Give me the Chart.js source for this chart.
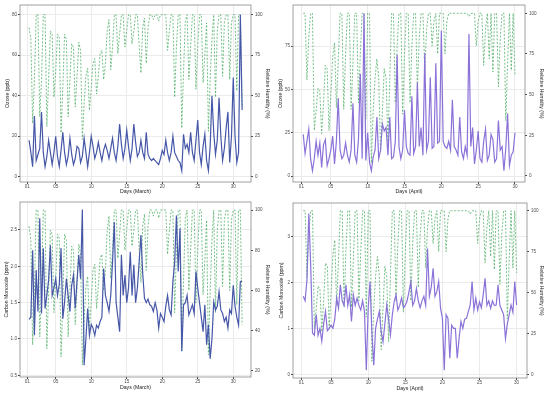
<!DOCTYPE html>
<html>
<head>
<meta charset="utf-8">
<script src="https://cdn.jsdelivr.net/npm/chart.js@4.4.1/dist/chart.umd.min.js"></script>
<style>
  body { margin: 0; background: #fff; }
  #wrap { position: relative; width: 550px; height: 395px; }
  canvas { position: absolute; }
</style>
</head>
<body>
<div id="wrap">
  <canvas id="c1" width="275" height="197" style="left:0;top:0;width:275px;height:197px"></canvas>
  <canvas id="c2" width="275" height="197" style="left:275px;top:0;width:275px;height:197px"></canvas>
  <canvas id="c3" width="275" height="198" style="left:0;top:197px;width:275px;height:198px"></canvas>
  <canvas id="c4" width="275" height="198" style="left:275px;top:197px;width:275px;height:198px"></canvas>
</div>
<script>
// 6-hourly readings, first value at day 1.25
var marO3 = [
  18, 12, 5,
  30, 8, 11, 14,
  32, 12, 5, 10,
  18, 12, 6, 12,
  20, 10, 5, 13,
  22, 12, 6, 10,
  19, 11, 6, 9,
  15, 14, 7, 10,
  19, 12, 5, 12,
  20, 15, 9, 12,
  17, 12, 8, 13,
  16, 13, 9, 14,
  19, 12, 8, 15,
  26, 16, 9, 14,
  23, 15, 8, 14,
  26, 17, 10, 12,
  18, 12, 9, 22,
  11, 9, 8, 9,
  8, 7, 6, 9,
  13, 11, 18, 12,
  8, 12, 20, 12,
  10, 8, 7, 3,
  21, 14, 16, 12,
  22, 12, 8, 18,
  28, 12, 6, 15,
  21, 8, 3, 15,
  40, 22, 11, 18,
  39, 20, 8, 14,
  24, 32, 7, 20,
  49, 20, 7, 12,
  80, 33
];
var marRH = [
  92, 85, 33,
  60, 100, 100, 37,
  60, 100, 100, 31,
  60, 90, 88, 49,
  65, 88, 86, 27,
  55, 88, 85, 37,
  60, 82, 80, 43,
  62, 83, 78, 23,
  45, 62, 67, 41,
  55, 70, 73, 51,
  62, 76, 78, 60,
  70, 90, 97, 66,
  80, 100, 100, 76,
  88, 100, 100, 80,
  90, 100, 100, 82,
  90, 100, 100, 81,
  64, 92, 98, 70,
  92, 100, 100, 97,
  100, 100, 96, 100,
  100, 100, 100, 78,
  90, 100, 100, 49,
  80, 100, 100, 30,
  65, 96, 100, 60,
  80, 100, 100, 54,
  80, 100, 100, 58,
  75, 95, 28, 60,
  85, 100, 49, 90,
  100, 100, 62, 95,
  100, 100, 60, 95,
  100, 100, 53, 100,
  100, 43
];
var marCO = [
  1.27, 1.3, 2.22,
  1.05, 1.95, 1.38, 2.66,
  1.35, 2.25, 1.42, 1.6,
  1.81, 2.29, 1.6, 1.7,
  1.83, 1.6, 1.75, 2.25,
  1.28, 1.51, 1.83, 1.6,
  1.38, 1.74, 1.88, 1.42,
  1.8, 2.16, 1.83, 2.78,
  0.64, 1.0, 1.42, 1.05,
  1.2, 1.15, 1.05, 1.19,
  1.15, 1.24, 1.3, 1.97,
  1.6, 1.5, 1.38, 1.6,
  2.06, 2.61, 1.51, 1.3,
  1.1, 2.16, 1.6, 1.88,
  1.5, 1.7, 2.2, 1.6,
  2.02, 1.5, 1.7, 2.06,
  2.43, 1.9, 1.56, 1.5,
  1.55, 1.47, 1.45, 1.38,
  1.5, 1.4, 1.15, 1.35,
  1.3, 1.24, 1.45, 1.6,
  1.4, 1.33, 1.79, 2.06,
  2.7, 1.93, 2.52, 0.83,
  1.47, 1.5, 1.6, 1.33,
  1.4, 1.47, 1.35, 1.93,
  1.7, 1.5, 1.3, 1.1,
  1.47, 0.92, 1.2, 0.73,
  1.0, 1.51, 1.4, 1.45,
  1.65, 1.4, 1.35, 1.24,
  1.3, 1.15, 1.4, 1.35,
  1.74, 1.45, 1.3, 1.19,
  1.79, 1.8
];
var aprO3 = [
  24, 13, 20,
  27, 10, 3, 10,
  20, 12, 19, 5,
  18, 21, 6, 10,
  15, 23, 7, 20,
  45, 15, 10, 12,
  19, 12, 8, 15,
  42, 12, 8, 21,
  59, 10, 94, 9,
  25, 8, 3, 11,
  15, 34, 10, 15,
  30, 26, 28, 12,
  34, 10, 11, 20,
  70, 17, 10, 15,
  38, 17, 13, 12,
  46, 13, 17, 54,
  17, 28, 12, 71,
  15, 20, 57, 16,
  17, 65, 19, 20,
  84, 20, 17, 16,
  20, 15, 44, 17,
  15, 12, 34, 14,
  10, 17, 12, 82,
  17, 28, 7, 15,
  26, 10, 8, 20,
  27, 9, 12, 24,
  21, 8, 10, 32,
  15, 17, 3, 16,
  36, 6, 12, 14,
  25
];
var aprRH = [
  100, 100, 59,
  85, 100, 100, 28,
  40, 54, 52, 26,
  45, 68, 66, 28,
  50, 73, 82, 42,
  70, 100, 100, 41,
  75, 100, 100, 41,
  70, 100, 100, 45,
  75, 100, 100, 35,
  100, 100, 8, 40,
  60, 72, 60, 15,
  40, 66, 60, 20,
  60, 100, 100, 45,
  80, 100, 100, 38,
  75, 100, 100, 45,
  80, 100, 100, 53,
  85, 100, 100, 65,
  90, 100, 100, 80,
  95, 100, 75, 100,
  100, 100, 75, 95,
  100, 100, 100, 100,
  100, 100, 100, 100,
  100, 100, 100, 98,
  100, 100, 100, 80,
  95, 100, 100, 68,
  90, 100, 72, 100,
  64, 100, 100, 55,
  85, 100, 100, 34,
  70, 100, 65, 100,
  62
];
var aprCO = [
  1.7, 1.6, 2.05,
  3.5, 2.4, 0.9, 0.85,
  1.3, 0.85, 1.0, 0.72,
  1.1, 1.37, 0.95, 1.0,
  1.07, 1.0, 1.2, 1.66,
  1.44, 1.95, 1.6, 1.5,
  1.95, 1.5, 1.73, 1.15,
  1.73, 1.5, 1.66, 1.5,
  1.4, 1.6, 1.37, 0.09,
  1.44, 2.02, 0.93, 0.2,
  1.0, 1.2, 1.37, 0.93,
  0.71, 1.1, 1.51, 1.2,
  0.86, 1.29, 1.58, 1.73,
  1.4, 1.5, 1.66, 1.45,
  1.5, 1.6, 1.8, 2.02,
  1.5, 1.6, 1.87, 1.6,
  1.45, 1.6, 1.7, 1.5,
  2.74, 1.7, 1.9, 2.31,
  1.7, 1.8, 2.02, 1.44,
  1.22, 0.09, 1.3, 1.22,
  0.35, 1.07, 1.0, 1.0,
  0.35, 0.78, 1.15, 1.0,
  1.2, 1.22, 1.37, 1.51,
  2.02, 1.4, 1.66, 1.4,
  1.58, 1.45, 1.73, 2.09,
  1.5, 1.6, 1.44, 1.6,
  1.5, 1.51, 1.95, 1.5,
  1.4, 1.3, 0.78, 1.1,
  1.3, 1.51, 1.35, 2.02,
  1.51
];

var dayTicks = [1, 5, 10, 15, 20, 25, 30];
var o3MarTicks = [0, 20, 40, 60, 80];
var o3AprTicks = [0, 25, 50, 75];
var coMarTicks = [0.5, 1.0, 1.5, 2.0, 2.5];
var coAprTicks = [0, 1, 2, 3];
var rhTicks = [0, 25, 50, 75, 100];
var rhCoMarTicks = [20, 40, 60, 80, 100];

var marDays = marO3.map(function (_, i) { return 1.25 + i / 4; });
var aprDays = aprO3.map(function (_, i) { return 1.25 + i / 4; });

var FONT = '"Liberation Sans", Arial, sans-serif';
var tickFont = { family: FONT, size: 4.6 };
var titleFont = { family: FONT, size: 5.2 };

// panel border like ggplot's theme_bw
var frame = {
  id: 'frame',
  afterDraw: function (chart) {
    var a = chart.chartArea, ctx = chart.ctx;
    ctx.save();
    ctx.strokeStyle = '#8a8a8a';
    ctx.lineWidth = 0.8;
    ctx.strokeRect(a.left, a.top, a.right - a.left, a.bottom - a.top);
    ctx.restore();
  }
};

function pts(days, vals) {
  return days.map(function (d, i) { return { x: d, y: vals[i] }; });
}

function panel(id, o) {
  new Chart(document.getElementById(id), {
    type: 'line',
    data: {
      datasets: [
        { data: pts(o.days, o.main), borderColor: o.color, borderWidth: 1.2, yAxisID: 'y' },
        { data: pts(o.days, o.rh), borderColor: '#56b06c', borderWidth: 0.8, borderDash: [2, 1.6], yAxisID: 'y1' }
      ]
    },
    options: {
      responsive: false,
      animation: false,
      devicePixelRatio: 1,
      layout: { padding: { top: o.top, left: 0, right: 0, bottom: 0 } },
      elements: { point: { radius: 0 }, line: { tension: 0 } },
      plugins: { legend: { display: false }, tooltip: { enabled: false } },
      scales: {
        x: {
          type: 'linear', min: o.xmin, max: o.xmax,
          afterBuildTicks: function (a) { a.ticks = dayTicks.map(function (v) { return { value: v }; }); },
          afterFit: function (s) { s.height = o.h - o.bottom; },
          ticks: {
            font: tickFont, color: '#4d4d4d', padding: 0, maxRotation: 0, autoSkip: false,
            callback: function (v) { return String(v).padStart(2, '0'); }
          },
          grid: { color: '#ebebeb', tickColor: '#444', tickLength: 2 },
          border: { display: false },
          title: { display: true, text: o.xTitle, font: titleFont, color: '#222', padding: { top: 0, bottom: o.xtp } }
        },
        y: {
          position: 'left', min: o.ymin, max: o.ymax,
          afterBuildTicks: function (a) { a.ticks = o.yTicks.map(function (v) { return { value: v }; }); },
          afterFit: function (s) { s.width = o.left; },
          ticks: { font: tickFont, color: '#4d4d4d', padding: 1, callback: o.yFmt },
          grid: { color: '#ebebeb', tickColor: '#444', tickLength: 2 },
          border: { display: false },
          title: { display: true, text: o.yTitle, font: titleFont, color: '#222', padding: { top: o.ltp, bottom: 0 } }
        },
        y1: {
          position: 'right', min: o.rmin, max: o.rmax,
          afterBuildTicks: function (a) { a.ticks = o.rTicks.map(function (v) { return { value: v }; }); },
          afterFit: function (s) { s.width = o.w - o.right; },
          ticks: { font: tickFont, color: '#4d4d4d', padding: 2 },
          grid: { drawOnChartArea: false, tickColor: '#444', tickLength: 2 },
          border: { display: false },
          title: { display: true, text: 'Relative Humidity (%)', font: titleFont, color: '#222', padding: { top: o.rtp, bottom: 0 } }
        }
      }
    },
    plugins: [frame]
  });
}

function plain(v) { return String(v); }
function oneDec(v) { return v.toFixed(1); }

panel('c1', {
  days: marDays, main: marO3, rh: marRH, color: '#4657a8',
  w: 275, h: 197, left: 20, right: 251, top: 5, bottom: 182,
  xmin: -0.03, xmax: 32.5, ymin: -2.6, ymax: 84.8, rmin: -3.3, rmax: 106,
  yTicks: o3MarTicks, rTicks: rhTicks, yFmt: plain,
  xTitle: 'Days (March)', yTitle: 'Ozone (ppb)', xtp: 2.2, ltp: 4, rtp: 4.7
});
panel('c2', {
  days: aprDays, main: aprO3, rh: aprRH, color: '#8b72d8',
  w: 275, h: 197, left: 18, right: 250, top: 5, bottom: 182,
  xmin: -0.14, xmax: 31.36, ymin: -3.46, ymax: 98.7, rmin: -3.69, rmax: 105.1,
  yTicks: o3AprTicks, rTicks: rhTicks, yFmt: plain,
  xTitle: 'Days (April)', yTitle: 'Ozone (ppb)', xtp: 2.2, ltp: 2, rtp: 5
});
panel('c3', {
  days: marDays, main: marCO, rh: marRH, color: '#4657a8',
  w: 275, h: 198, left: 20, right: 251, top: 5, bottom: 180,
  xmin: -0.03, xmax: 32.5, ymin: 0.477, ymax: 2.885, rmin: 17.0, rmax: 104,
  yTicks: coMarTicks, rTicks: rhCoMarTicks, yFmt: oneDec,
  xTitle: 'Days (March)', yTitle: 'Carbon Monoxide (ppm)', xtp: 4.2, ltp: 3.7, rtp: 4.7
});
panel('c4', {
  days: aprDays, main: aprCO, rh: aprRH, color: '#8b72d8',
  w: 275, h: 198, left: 18, right: 252, top: 6, bottom: 181,
  xmin: -0.13, xmax: 31.4, ymin: -0.08, ymax: 3.73, rmin: -2.26, rmax: 104.7,
  yTicks: coAprTicks, rTicks: rhTicks, yFmt: plain,
  xTitle: 'Days (April)', yTitle: 'Carbon Monoxide (ppm)', xtp: 3.6, ltp: 3.7, rtp: 5
});
</script>
</body>
</html>
